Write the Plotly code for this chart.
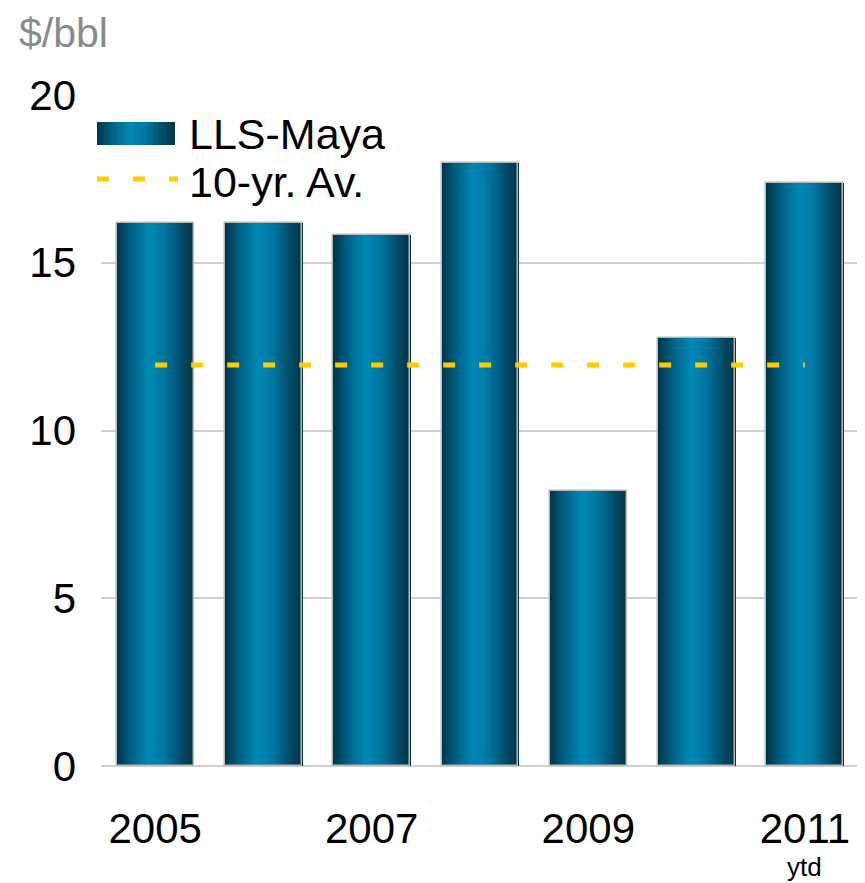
import plotly.graph_objects as go

# data
years = ['2005', '2006', '2007', '2008', '2009', '2010', '2011']
lls_maya = [16.18, 16.18, 15.83, 17.97, 8.2, 12.76, 17.38]
ten_yr_avg = 11.95
tick_years = ['2005', '2007', '2009', '2011']

FONT = 'Liberation Sans, Arial, sans-serif'
BAR_W = 0.71
N_STRIPES = 48

# horizontal gradient across each bar: dark edges, bright teal centre
stops = [(0.0, (3, 52, 72)), (0.18, (0, 95, 128)), (0.42, (0, 136, 181)),
         (0.62, (0, 118, 160)), (0.85, (2, 74, 101)), (1.0, (3, 50, 68))]


def grad(t):
    for (t0, c0), (t1, c1) in zip(stops[:-1], stops[1:]):
        if t0 <= t <= t1:
            f = (t - t0) / (t1 - t0)
            c = [round(a + (b - a) * f) for a, b in zip(c0, c1)]
            return 'rgb({},{},{})'.format(*c)
    return 'rgb(3,50,68)'


fig = go.Figure()

stripe_w = BAR_W / N_STRIPES
for i in range(N_STRIPES):
    fig.add_bar(
        x=years, y=lls_maya,
        width=stripe_w * 1.4,
        offset=-BAR_W / 2 + i * stripe_w,
        marker=dict(color=grad((i + 0.5) / N_STRIPES), line_width=0),
        showlegend=False, hoverinfo='skip'
    )

# thin light outline on top of each bar
fig.add_bar(
    x=years, y=lls_maya, width=BAR_W,
    marker=dict(color='rgba(0,0,0,0)', line=dict(color='#b8b8b8', width=1.5)),
    showlegend=False, name='LLS-Maya'
)

# 10-year average line, from first to last category centre
fig.add_scatter(
    x=[years[0], years[-1]], y=[ten_yr_avg, ten_yr_avg],
    mode='lines', line=dict(color='#ffcc00', width=5, dash='12px,24px'),
    showlegend=False, name='10-yr. Av.'
)

# hand-made legend (gradient swatch + dashed swatch); positions in page px -> paper
def px_x(v):
    return (v - 101) / 758


def px_y(v):
    return (766 - v) / 671


shapes = []
sx0, sx1, sy0, sy1 = 97, 175, 122, 145
for i in range(N_STRIPES):
    a = sx0 + (sx1 - sx0) * i / N_STRIPES
    b = sx0 + (sx1 - sx0) * (i + 1.4) / N_STRIPES
    shapes.append(dict(type='rect', xref='paper', yref='paper',
                       x0=px_x(min(a, sx1)), x1=px_x(min(b, sx1)),
                       y0=px_y(sy1), y1=px_y(sy0),
                       fillcolor=grad((i + 0.5) / N_STRIPES), line_width=0, layer='above'))
shapes.append(dict(type='line', xref='paper', yref='paper',
                   x0=px_x(97), x1=px_x(178), y0=px_y(179), y1=px_y(179),
                   line=dict(color='#ffcc00', width=5, dash='12px,24px')))

annotations = [
    dict(text='LLS-Maya', xref='paper', yref='paper', x=px_x(187), y=px_y(134),
         xanchor='left', yanchor='middle', showarrow=False, font=dict(size=43, color='black', family=FONT)),
    dict(text='10-yr. Av.', xref='paper', yref='paper', x=px_x(187), y=px_y(182),
         xanchor='left', yanchor='middle', showarrow=False, font=dict(size=43, color='black', family=FONT)),
    dict(text='$/bbl', xref='paper', yref='paper', x=px_x(17), y=px_y(33),
         xanchor='left', yanchor='middle', showarrow=False, font=dict(size=41, color='#8a8a8a', family=FONT)),
    dict(text='ytd', xref='paper', yref='paper', x=px_x(804), y=px_y(867),
         xanchor='center', yanchor='middle', showarrow=False, font=dict(size=26, color='black', family=FONT)),
]

# page has an 8px body margin, so the figure is 8px smaller and margins shifted
fig.update_layout(
    width=857, height=875,
    margin=dict(l=93, r=6, t=87, b=117),
    plot_bgcolor='white', paper_bgcolor='white',
    barmode='overlay', bargap=0,
    font=dict(family=FONT, color='black'),
    shapes=shapes, annotations=annotations,
    xaxis=dict(type='category', categoryorder='array', categoryarray=years,
               range=[-0.5, 6.5], tickangle=0,
               tickvals=tick_years, ticktext=tick_years, showgrid=False,
               showline=False, ticks='', tickfont=dict(size=42), ticklabelstandoff=34),
    yaxis=dict(range=[0, 20], tickvals=[0, 5, 10, 15, 20], showgrid=True,
               gridcolor='#d0d0d0', gridwidth=2, zeroline=True, zerolinecolor='#d0d0d0',
               zerolinewidth=2, showline=False, ticks='', tickfont=dict(size=42),
               ticklabelstandoff=24),
)

fig.write_html('out.html')
